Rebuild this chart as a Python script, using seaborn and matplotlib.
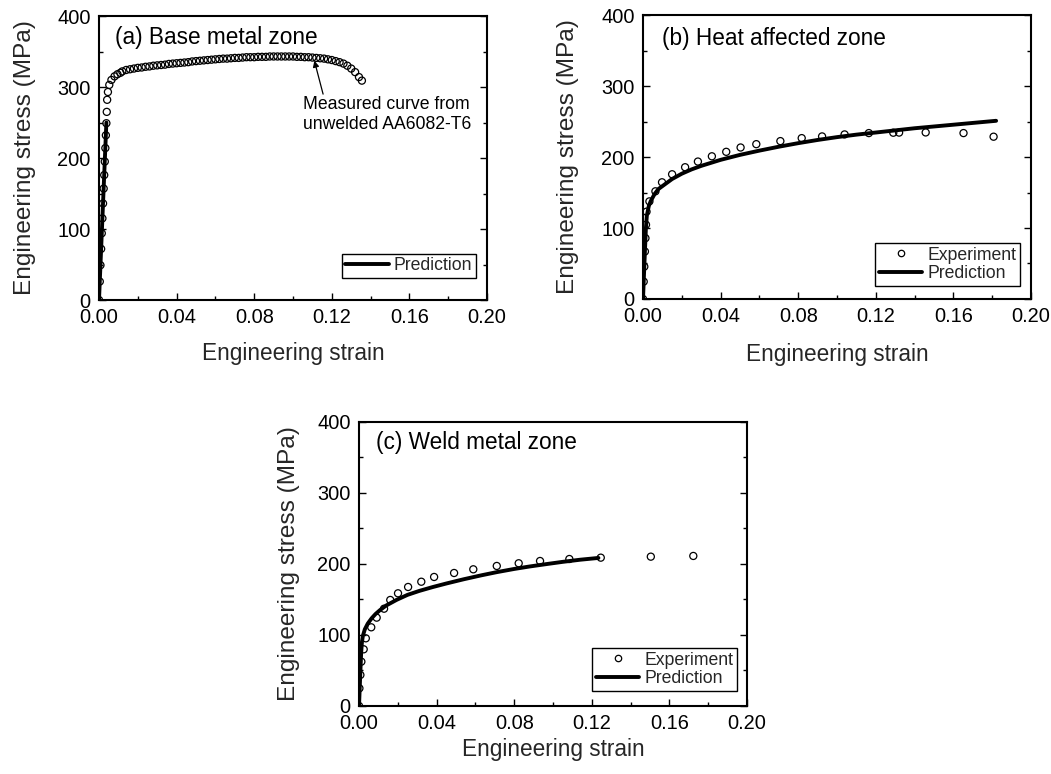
import matplotlib
matplotlib.use("Agg")
import matplotlib.pyplot as plt
from matplotlib.lines import Line2D
from matplotlib.ticker import MultipleLocator
import seaborn as sns
import pandas as pd

# ---------------- data ----------------
# (a) base metal zone: measured curve of unwelded AA6082-T6
a_exp_strain = [0.0, 0.0004, 0.00075, 0.0011, 0.00143, 0.00175, 0.00208, 0.0024, 0.00269,
                0.00298, 0.00327, 0.00354, 0.0038, 0.0040, 0.0042, 0.0046, 0.0053, 0.0064,
                0.0080, 0.0095, 0.011,
                0.012, 0.014, 0.016, 0.018, 0.020, 0.022, 0.024, 0.026, 0.028, 0.030,
                0.032, 0.034, 0.036, 0.038, 0.040, 0.042, 0.044, 0.046, 0.048, 0.050,
                0.052, 0.054, 0.056, 0.058, 0.060, 0.062, 0.064, 0.066, 0.068, 0.070,
                0.072, 0.074, 0.076, 0.078, 0.080, 0.082, 0.084, 0.086, 0.088, 0.090,
                0.092, 0.094, 0.096, 0.098, 0.100, 0.102, 0.104, 0.106, 0.108, 0.110,
                0.112, 0.114, 0.116, 0.118, 0.120, 0.122, 0.124, 0.126, 0.128, 0.130,
                0.132, 0.134, 0.1355]
a_exp_stress = [0, 26, 49, 72, 94, 115, 136, 157, 176,
                195, 214, 232, 249, 265, 282, 293, 303, 310,
                315, 318, 320,
                322, 324, 325, 326, 327, 327.5, 328.5, 329, 330, 330.5,
                331, 331.5, 332.5, 333, 333.5, 334, 334.5, 335, 336, 336.5,
                337, 337.5, 338, 338.5, 339, 339.5, 340, 340, 340.5, 341,
                341, 341.5, 342, 342, 342, 342.5, 342.5, 342.5, 343, 343,
                343, 343, 343, 343, 343, 342.5, 342.5, 342, 342, 341.5,
                341, 340.5, 340, 339, 338, 336.5, 335, 333, 330, 326,
                321, 314, 309]
a_pred_strain = [0.0, 0.0038]
a_pred_stress = [0, 250]

# (b) heat affected zone
b_exp_strain = [0.0, 0.00036, 0.00067, 0.00098, 0.00126, 0.00154, 0.00182, 0.0033, 0.0064,
                0.0098, 0.0150, 0.0217, 0.0283, 0.0355, 0.0429, 0.0503, 0.0584, 0.0708,
                0.0818, 0.0923, 0.1039, 0.1164, 0.1290, 0.1320, 0.1457, 0.1652, 0.1807]
b_exp_stress = [0, 24.5, 45.6, 66.9, 85.7, 104.6, 123.0, 137.5, 151.7,
                164.4, 175.7, 185.6, 193.6, 201.0, 207.3, 213.4, 218.1, 222.4,
                226.6, 229.0, 231.8, 233.7, 234.2, 234.4, 234.6, 233.7, 228.6]
b_pred_strain = [0.0, 0.0005, 0.001, 0.0015, 0.002, 0.003, 0.004, 0.006, 0.008, 0.010,
                 0.0125, 0.015, 0.020, 0.025, 0.030, 0.040, 0.050, 0.060, 0.070, 0.080,
                 0.090, 0.100, 0.110, 0.120, 0.130, 0.140, 0.150, 0.160, 0.170, 0.182]
b_pred_stress = [0, 34, 68, 100, 118, 131, 138, 148, 155, 159,
                 164, 169, 176.5, 182.5, 187.5, 196, 203, 209, 214.5, 219.5,
                 224, 228, 231.5, 234.5, 237.5, 240.5, 243, 245.5, 248, 251]

# (c) weld metal zone
c_exp_strain = [0.0, 0.0002, 0.0007, 0.0012, 0.0024, 0.0035, 0.0063, 0.0091, 0.0129,
                0.0161, 0.0201, 0.0253, 0.0321, 0.0387, 0.0490, 0.0589, 0.0710, 0.0823,
                0.0933, 0.1084, 0.1246, 0.1504, 0.1723]
c_exp_stress = [0, 24.9, 43.7, 62.4, 79.8, 95.3, 110.8, 124.4, 137.0,
                149.3, 158.7, 167.6, 175.0, 181.7, 187.3, 192.5, 197.2, 201.0,
                204.2, 207.0, 208.9, 210.3, 211.3]
c_pred_strain = [0.0, 0.0006, 0.0011, 0.0015, 0.002, 0.003, 0.0045, 0.0065, 0.0085,
                 0.0108, 0.014, 0.0194, 0.025, 0.031, 0.038, 0.045, 0.054, 0.063,
                 0.071, 0.080, 0.088, 0.097, 0.105, 0.114, 0.1234]
c_pred_stress = [0, 42, 75, 90, 99, 108, 116, 123.5, 129.5,
                 135, 141.5, 149.5, 156.5, 162, 167.5, 172.5, 178.5, 184,
                 188.5, 193, 196.5, 200, 203, 206, 208.5]

x_ticks = [0.00, 0.04, 0.08, 0.12, 0.16, 0.20]
y_ticks = [0, 100, 200, 300, 400]
x_label = "Engineering strain"
y_label = "Engineering stress (MPa)"

# ---------------- style ----------------
sns.set_theme(style="ticks")
plt.rcParams["font.family"] = ["Liberation Sans", "DejaVu Sans"]
plt.rcParams["axes.linewidth"] = 1.5

fig = plt.figure(figsize=(10.51, 7.74), dpi=100)
W, H = 0.3692, 0.3669
ax_a = fig.add_axes([0.0942, 0.6124, W, H])
ax_b = fig.add_axes([0.6118, 0.6137, W, H])
ax_c = fig.add_axes([0.3416, 0.0879, W, H])

MS = 26          # marker area (pt^2)
MEW = 0.9        # marker edge width
LW = 2.8         # prediction line width


def scatter_open(ax, xs, ys):
    df = pd.DataFrame({"strain": xs, "stress": ys})
    sns.scatterplot(data=df, x="strain", y="stress", ax=ax, marker="o", s=MS,
                    facecolor="none", edgecolor="black", linewidth=MEW,
                    legend=False, zorder=3)


def pred_line(ax, xs, ys):
    df = pd.DataFrame({"strain": xs, "stress": ys})
    sns.lineplot(data=df, x="strain", y="stress", ax=ax, sort=False,
                 estimator=None, color="black", linewidth=LW,
                 legend=False, zorder=4)


def style_axes(ax, title, title_xy, xlab_y, ylab_x):
    ax.set_xlim(0, 0.20)
    ax.set_ylim(0, 400)
    ax.set_xticks(x_ticks)
    ax.set_xticklabels([f"{t:.2f}" for t in x_ticks])
    ax.set_yticks(y_ticks)
    ax.set_yticklabels([str(t) for t in y_ticks])
    ax.xaxis.set_minor_locator(MultipleLocator(0.02))
    ax.yaxis.set_minor_locator(MultipleLocator(50))
    ax.tick_params(which="both", direction="in", right=True, top=False,
                   colors="black", width=1.0)
    ax.tick_params(which="major", length=5, labelsize=14.4)
    ax.tick_params(axis="x", which="major", pad=6)
    ax.tick_params(axis="y", which="major", pad=6)
    ax.tick_params(which="minor", length=3)
    for sp in ax.spines.values():
        sp.set_visible(True)
        sp.set_color("black")
        sp.set_linewidth(1.5)
    ax.set_xlabel(x_label, fontsize=16.3)
    ax.set_ylabel(y_label, fontsize=17.6)
    ax.xaxis.set_label_coords(0.5, xlab_y)
    ax.xaxis.label.set_va("center")
    ax.yaxis.set_label_coords(ylab_x, 0.5)
    ax.yaxis.label.set_va("center")
    ax.text(title_xy[0], title_xy[1], title, transform=ax.transAxes,
            fontsize=16.3, va="center", ha="left", color="black")
    ax.set_facecolor("white")


def add_legend(ax, with_exp, anchor):
    handles = []
    if with_exp:
        handles.append(Line2D([], [], linestyle="none", marker="o", markersize=4.6,
                              markerfacecolor="none", markeredgecolor="black",
                              markeredgewidth=MEW, label="Experiment"))
    handles.append(Line2D([], [], color="black", linewidth=LW, label="Prediction"))
    leg = ax.legend(handles=handles, loc="lower right", bbox_to_anchor=anchor,
                    borderaxespad=0, fontsize=12.7, frameon=True, fancybox=False,
                    edgecolor="black", framealpha=1, borderpad=0.2,
                    handlelength=2.45, handletextpad=0.3, labelspacing=0.1)
    leg.get_frame().set_linewidth(1.0)


# (a)
scatter_open(ax_a, a_exp_strain, a_exp_stress)
pred_line(ax_a, a_pred_strain, a_pred_stress)
style_axes(ax_a, "(a) Base metal zone", (0.041, 0.926), -0.19, -0.19)
add_legend(ax_a, False, (0.9716, 0.0775))
ax_a.text(0.105, 287, "Measured curve from\nunwelded AA6082-T6", fontsize=12.7,
          ha="left", va="top", color="black", linespacing=1.2)
ax_a.annotate("", xy=(0.111, 337), xytext=(0.1155, 290),
              arrowprops=dict(arrowstyle="-|>", color="black", lw=0.9,
                              mutation_scale=9, shrinkA=0, shrinkB=0))

# (b)
scatter_open(ax_b, b_exp_strain, b_exp_stress)
pred_line(ax_b, b_pred_strain, b_pred_stress)
style_axes(ax_b, "(b) Heat affected zone", (0.048, 0.919), -0.195, -0.194)
add_legend(ax_b, True, (0.9716, 0.046))

# (c)
scatter_open(ax_c, c_exp_strain, c_exp_stress)
pred_line(ax_c, c_pred_strain, c_pred_stress)
style_axes(ax_c, "(c) Weld metal zone", (0.044, 0.926), -0.152, -0.18)
add_legend(ax_c, True, (0.974, 0.053))

fig.savefig("out.png", dpi=100, facecolor="white")
